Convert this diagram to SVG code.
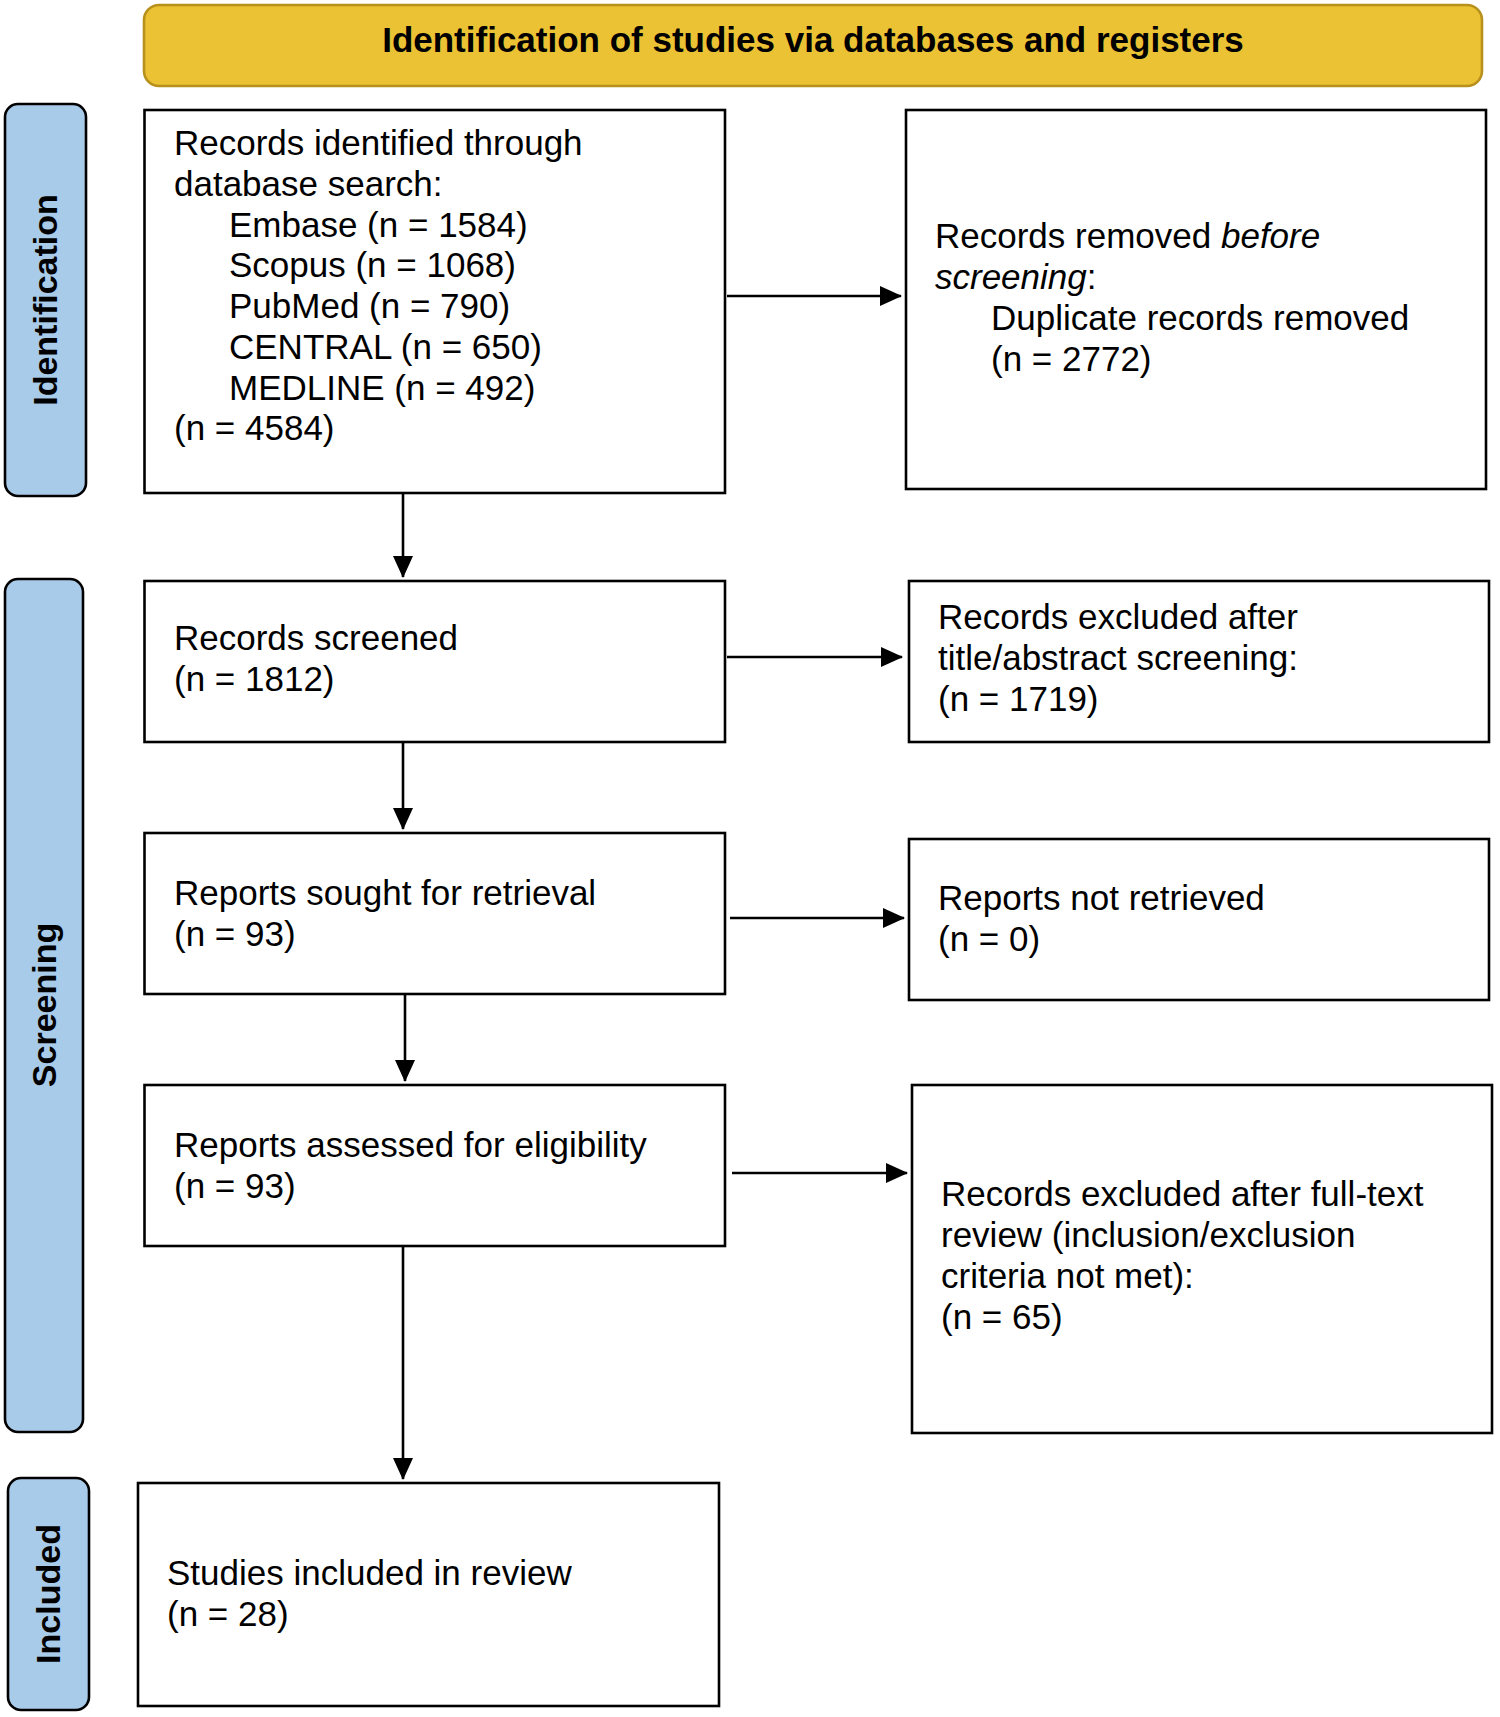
<svg xmlns="http://www.w3.org/2000/svg" width="1500" height="1717" viewBox="0 0 1500 1717">
<defs>
<marker id="ah" markerWidth="22" markerHeight="20" refX="21" refY="10" orient="auto" markerUnits="userSpaceOnUse" viewBox="0 0 22 20">
<path d="M0,0 L22,10 L0,20 Z" fill="#000"/>
</marker>
<style>
.box{fill:#fff;stroke:#000;stroke-width:2.6}
.side{fill:#a9cbea;stroke:#000;stroke-width:2.6}
.hdr{fill:#ebc233;stroke:#b8901c;stroke-width:2.6}
.t{font-family:"Liberation Sans",Arial,sans-serif;font-size:35px;fill:#000}
.b{font-family:"Liberation Sans",Arial,sans-serif;font-size:35px;font-weight:bold;fill:#000}
.s{font-family:"Liberation Sans",Arial,sans-serif;font-size:34px;font-weight:bold;fill:#000}
.c{stroke:#000;stroke-width:2.6;fill:none}
</style>
</defs>
<rect width="1500" height="1717" fill="#fff"/>
<g id="header">
<rect class="hdr" x="144" y="5" width="1338" height="81" rx="15"/>
<text class="b" x="813" y="52" text-anchor="middle">Identification of studies via databases and registers</text>
</g>
<g id="side-identification">
<rect class="side" x="5" y="104" width="81" height="392" rx="13"/>
<text class="s" transform="translate(57,300) rotate(-90)" text-anchor="middle">Identification</text>
</g>
<g id="side-screening">
<rect class="side" x="5" y="579" width="78" height="853" rx="13"/>
<text class="s" transform="translate(56,1005) rotate(-90)" text-anchor="middle">Screening</text>
</g>
<g id="side-included">
<rect class="side" x="8" y="1478" width="81" height="232" rx="13"/>
<text class="s" transform="translate(60,1594) rotate(-90)" text-anchor="middle">Included</text>
</g>
<g id="identified">
<rect class="box" x="144.5" y="110" width="580.5" height="383"/>
<text class="t" x="174" y="155">Records identified through</text>
<text class="t" x="174" y="196">database search:</text>
<text class="t" x="229" y="237">Embase (n = 1584)</text>
<text class="t" x="229" y="277">Scopus (n = 1068)</text>
<text class="t" x="229" y="318">PubMed (n = 790)</text>
<text class="t" x="229" y="359">CENTRAL (n = 650)</text>
<text class="t" x="229" y="400">MEDLINE (n = 492)</text>
<text class="t" x="174" y="440">(n = 4584)</text>
</g>
<g id="removed">
<rect class="box" x="906" y="110" width="580" height="379"/>
<text class="t" x="935" y="248">Records removed <tspan font-style="italic">before</tspan></text>
<text class="t" x="935" y="289"><tspan font-style="italic">screening</tspan>:</text>
<text class="t" x="991" y="330">Duplicate records removed</text>
<text class="t" x="991" y="371">(n = 2772)</text>
</g>
<g id="screened">
<rect class="box" x="144.5" y="581" width="580.5" height="161"/>
<text class="t" x="174" y="650">Records screened</text>
<text class="t" x="174" y="691">(n = 1812)</text>
</g>
<g id="excluded-title">
<rect class="box" x="909" y="581" width="580" height="161"/>
<text class="t" x="938" y="629">Records excluded after</text>
<text class="t" x="938" y="670">title/abstract screening:</text>
<text class="t" x="938" y="711">(n = 1719)</text>
</g>
<g id="sought">
<rect class="box" x="144.5" y="833" width="580.5" height="161"/>
<text class="t" x="174" y="905">Reports sought for retrieval</text>
<text class="t" x="174" y="946">(n = 93)</text>
</g>
<g id="not-retrieved">
<rect class="box" x="909" y="839" width="580" height="161"/>
<text class="t" x="938" y="910">Reports not retrieved</text>
<text class="t" x="938" y="951">(n = 0)</text>
</g>
<g id="assessed">
<rect class="box" x="144.5" y="1085" width="580.5" height="161"/>
<text class="t" x="174" y="1157">Reports assessed for eligibility</text>
<text class="t" x="174" y="1198">(n = 93)</text>
</g>
<g id="excluded-full">
<rect class="box" x="912" y="1085" width="580" height="348"/>
<text class="t" x="941" y="1206">Records excluded after full-text</text>
<text class="t" x="941" y="1247">review (inclusion/exclusion</text>
<text class="t" x="941" y="1288">criteria not met):</text>
<text class="t" x="941" y="1329">(n = 65)</text>
</g>
<g id="included">
<rect class="box" x="138" y="1483" width="581" height="223"/>
<text class="t" x="167" y="1585">Studies included in review</text>
<text class="t" x="167" y="1626">(n = 28)</text>
</g>
<g id="connectors">
<line class="c" x1="403" y1="493" x2="403" y2="577" marker-end="url(#ah)"/>
<line class="c" x1="403" y1="742" x2="403" y2="829" marker-end="url(#ah)"/>
<line class="c" x1="405" y1="994" x2="405" y2="1081" marker-end="url(#ah)"/>
<line class="c" x1="403" y1="1246" x2="403" y2="1479" marker-end="url(#ah)"/>
<line class="c" x1="727" y1="296" x2="901" y2="296" marker-end="url(#ah)"/>
<line class="c" x1="727" y1="657" x2="902" y2="657" marker-end="url(#ah)"/>
<line class="c" x1="730" y1="918" x2="904" y2="918" marker-end="url(#ah)"/>
<line class="c" x1="732" y1="1173" x2="907" y2="1173" marker-end="url(#ah)"/>
</g>
</svg>
